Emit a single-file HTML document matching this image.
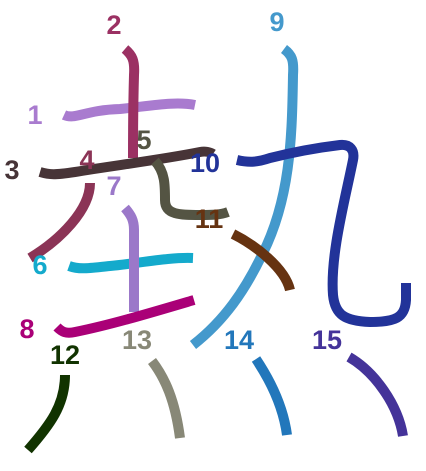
<!DOCTYPE html>
<html><head><meta charset="utf-8"><style>
html,body{margin:0;padding:0;background:#fff;width:426px;height:471px;overflow:hidden}
svg text{font-family:"Liberation Sans",sans-serif;font-weight:bold;font-size:27px;text-anchor:middle}
path{fill:none;stroke-width:10;stroke-linecap:butt;stroke-linejoin:round}
</style></head><body>
<svg width="426" height="471" viewBox="0 0 426 471">
<path stroke="#a97bcf" d="M64,115 C75,120 85,110 120,109 C150,106 175,101 195,105"/>
<path stroke="#9b3163" d="M125,49 C132,55 135,60 134,75 C133,110 133,135 133,158"/>
<path stroke="#473437" d="M40,172 C50,175 55,175 75,172 C110,166 160,160 200,152 C205,151 210,152 213,154"/>
<path stroke="#8b3456" d="M90,183 C90,210 60,240 30,258"/>
<path stroke="#545443" d="M155,161 C165,172 165,185 165,200 C165,215 180,215 200,215 C212,215 220,215 228,212"/>
<path stroke="#14aacc" d="M69,266 C80,270 90,268 110,266 C140,263 170,257 193,258"/>
<path stroke="#9b78c9" d="M125,208 C131,215 134,220 134,230 C134,260 134,290 134,312"/>
<path stroke="#aa0077" d="M57,327 C62,332 66,334 75,332 C110,325 150,313 194,300"/>
<path stroke="#4499cc" d="M284,49 C292,55 294,60 293,75 C292,140 290,200 262,255 C245,290 225,320 193,345"/>
<path stroke="#223399" d="M237,160 C250,163 258,162 270,158 C290,153 315,148 340,145 C350,144 355,150 353,160 C345,200 330,255 333,295 C335,315 345,321 370,322 C395,322 405,318 406,300 L406,283"/>
<path stroke="#663311" d="M233,234 C255,245 285,268 290,290"/>
<path stroke="#113300" d="M65,375 C65,405 50,425 28,450"/>
<path stroke="#888877" d="M152,361 C165,378 175,400 180,438"/>
<path stroke="#2277bb" d="M256,359 C270,380 283,405 287,435"/>
<path stroke="#443399" d="M349,357 C375,372 398,405 403,436"/>
<text x="35" y="124" fill="#a97bcf">1</text>
<text x="114" y="34" fill="#9b3163">2</text>
<text x="12" y="179" fill="#473437">3</text>
<text x="87" y="169" fill="#8b3456">4</text>
<text x="144" y="149" fill="#545443">5</text>
<text x="40" y="274" fill="#14aacc">6</text>
<text x="114" y="195" fill="#9b78c9">7</text>
<text x="27" y="338" fill="#aa0077">8</text>
<text x="277" y="31" fill="#4499cc">9</text>
<text x="205" y="172" fill="#223399">10</text>
<text x="209" y="228" fill="#663311">11</text>
<text x="65" y="364" fill="#113300">12</text>
<text x="137" y="349" fill="#888877">13</text>
<text x="239" y="349" fill="#2277bb">14</text>
<text x="327" y="349" fill="#443399">15</text>
</svg>
</body></html>
